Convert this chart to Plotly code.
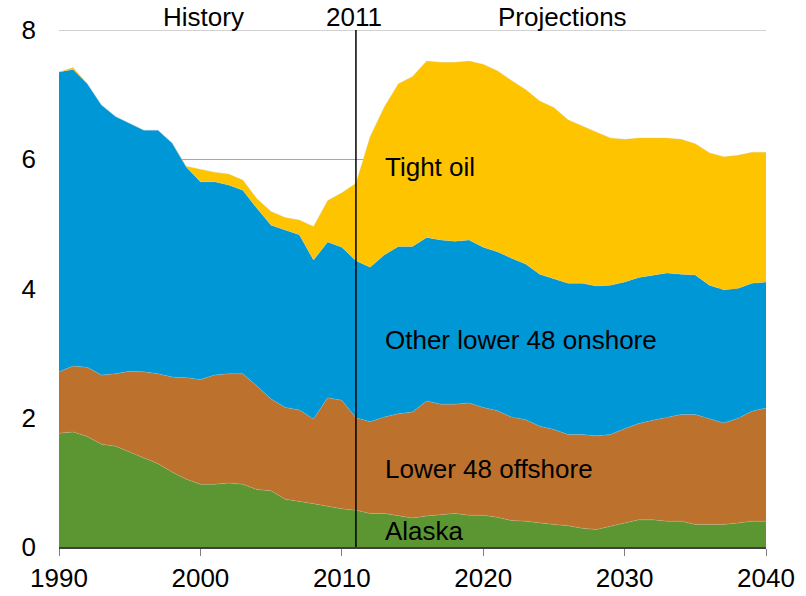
import plotly.graph_objects as go

years = list(range(1990, 2041))

alaska = [1.76, 1.78, 1.71, 1.59, 1.56, 1.47, 1.38, 1.29, 1.16, 1.05,
          0.97, 0.97, 0.99, 0.97, 0.89, 0.87, 0.74, 0.71, 0.67, 0.63,
          0.59, 0.57, 0.52, 0.52, 0.48, 0.45, 0.48, 0.50, 0.52, 0.49,
          0.49, 0.46, 0.41, 0.40, 0.37, 0.35, 0.33, 0.29, 0.27, 0.32,
          0.37, 0.42, 0.42, 0.40, 0.40, 0.35, 0.35, 0.35, 0.37, 0.40,
          0.40]

offshore = [0.95, 1.02, 1.07, 1.07, 1.12, 1.25, 1.33, 1.39, 1.47, 1.57,
            1.62, 1.69, 1.69, 1.71, 1.60, 1.42, 1.42, 1.41, 1.31, 1.68,
            1.68, 1.43, 1.42, 1.49, 1.58, 1.64, 1.78, 1.71, 1.69, 1.74,
            1.67, 1.65, 1.60, 1.57, 1.50, 1.47, 1.41, 1.45, 1.45, 1.42,
            1.46, 1.49, 1.54, 1.60, 1.65, 1.70, 1.64, 1.57, 1.62, 1.70,
            1.75]

onshore = [4.64, 4.59, 4.39, 4.18, 3.98, 3.84, 3.74, 3.77, 3.62, 3.26,
           3.06, 2.99, 2.92, 2.84, 2.75, 2.69, 2.74, 2.71, 2.46, 2.41,
           2.37, 2.43, 2.39, 2.51, 2.59, 2.56, 2.53, 2.54, 2.52, 2.52,
           2.48, 2.46, 2.46, 2.41, 2.35, 2.33, 2.34, 2.34, 2.32, 2.31,
           2.27, 2.26, 2.24, 2.24, 2.17, 2.16, 2.06, 2.06, 2.01, 1.98,
           1.95]

tight = [0.00, 0.03, 0.00, 0.00, 0.00, 0.00, 0.00, 0.00, 0.00, 0.01,
         0.19, 0.15, 0.17, 0.16, 0.15, 0.21, 0.20, 0.23, 0.52, 0.64,
         0.84, 1.20, 2.02, 2.29, 2.52, 2.63, 2.73, 2.75, 2.77, 2.77,
         2.83, 2.80, 2.75, 2.70, 2.68, 2.65, 2.53, 2.43, 2.38, 2.28,
         2.21, 2.16, 2.13, 2.09, 2.09, 2.03, 2.05, 2.06, 2.06, 2.03,
         2.01]

series_names = ["Alaska", "Lower 48 offshore", "Other lower 48 onshore", "Tight oil"]
series_values = [alaska, offshore, onshore, tight]
series_colors = ["#5C9632", "#BC722D", "#0097D7", "#FFC400"]

x_ticks = [1990, 2000, 2010, 2020, 2030, 2040]
y_ticks = [0, 2, 4, 6, 8]

FONT = "Liberation Sans, Arial, sans-serif"

fig = go.Figure()
for name, vals, col in zip(series_names, series_values, series_colors):
    fig.add_trace(go.Scatter(
        x=years, y=vals, name=name, mode="lines",
        stackgroup="one", line=dict(width=0.4, color="rgba(200,200,200,0.6)"),
        fillcolor=col, hoverinfo="x+y+name",
    ))

# top gridline at the maximum of the y range
fig.add_shape(type="line", xref="paper", yref="y", x0=0, x1=1, y0=y_ticks[-1], y1=y_ticks[-1],
              line=dict(color="#A6A6A6", width=1), layer="below")

# vertical 2011 divider
fig.add_shape(type="line", xref="x", yref="paper", x0=2011, x1=2011, y0=0, y1=1,
              line=dict(color="black", width=1.5), layer="above")

# region labels at top
for txt, xv in [("History", 2000.2), ("2011", 2010.83), ("Projections", 2025.64)]:
    fig.add_annotation(x=xv, y=1.0, xref="x", yref="paper", text=txt,
                       showarrow=False, xanchor="center", yanchor="bottom",
                       yshift=-4, font=dict(size=26, color="black", family=FONT))

# series labels
for txt, yv in [("Tight oil", 5.88), ("Other lower 48 onshore", 3.21),
                ("Lower 48 offshore", 1.20), ("Alaska", 0.24)]:
    fig.add_annotation(x=2012.94, y=yv, xref="x", yref="y", text=txt,
                       showarrow=False, xanchor="left", yanchor="middle",
                       font=dict(size=26, color="black", family=FONT))

fig.update_layout(
    width=806, height=596,
    margin=dict(l=59, r=40, t=30, b=49),
    paper_bgcolor="white", plot_bgcolor="white",
    showlegend=False,
    font=dict(family=FONT, size=26, color="black"),
    xaxis=dict(range=[1990, 2040], tickvals=x_ticks, ticks="outside", ticklen=7,
               tickcolor="#808080", showline=True, linecolor="#404040", linewidth=1.5,
               showgrid=False, zeroline=False, automargin=False,
               tickfont=dict(size=26, color="black")),
    yaxis=dict(range=[0, 8], tickvals=y_ticks, showgrid=True, gridcolor="#A6A6A6",
               gridwidth=1, zeroline=False, showline=False, ticks="", automargin=False,
               ticklabelstandoff=22, tickfont=dict(size=26, color="black")),
)

fig.write_html("out.html", config={"displayModeBar": False},
               post_script="document.body.style.margin='0px';document.body.style.overflow='hidden';")
